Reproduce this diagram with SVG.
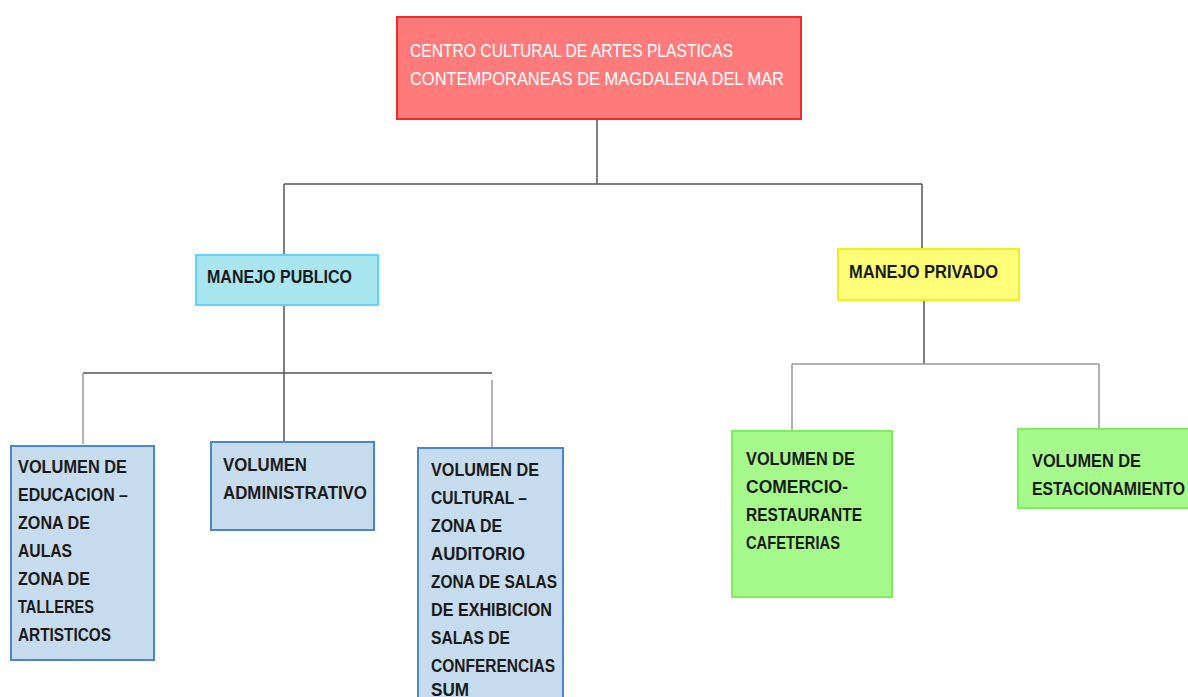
<svg xmlns="http://www.w3.org/2000/svg" width="1188" height="697" viewBox="0 0 1188 697">
<style>
text{font-family:"Liberation Sans",Arial,sans-serif;font-size:18px;font-weight:bold;fill:#1a1a1a}
.t{fill:#ffffff;font-weight:normal;font-size:18px}
.c{stroke:#555;stroke-width:1.5;fill:none}
.cl{stroke:#999;stroke-width:1.5;fill:none}
.blue{fill:#C6DBEE;stroke:#4A86C8;stroke-width:2}
.green{fill:#A6FA8B;stroke:#7CEE5C;stroke-width:2}
</style>
<rect width="1188" height="697" fill="#ffffff"/>
<g id="connectors">
<path class="c" d="M597 119V184M284 184H922M284 184V255M922 184V249"/>
<path class="c" d="M284 305V373M83 373H492M284 373V442"/>
<path class="cl" d="M83 373V444M492 380V448"/>
<path class="c" d="M924 300V364"/>
<path class="cl" d="M792 364H1099M792 364V431M1099 364V430"/>
</g>
<g id="root">
<rect x="397" y="17" width="404" height="102" fill="#FF7B7B" stroke="#F42A2A" stroke-width="2"/>
<text class="t" x="410" y="57" textLength="323" lengthAdjust="spacingAndGlyphs">CENTRO CULTURAL DE ARTES PLASTICAS</text>
<text class="t" x="410" y="85" textLength="374" lengthAdjust="spacingAndGlyphs">CONTEMPORANEAS DE MAGDALENA DEL MAR</text>
</g>
<g id="manejo-publico">
<rect x="196" y="255" width="182" height="50" fill="#A9E5EE" stroke="#5FD4F4" stroke-width="2"/>
<text x="207" y="283" textLength="145" lengthAdjust="spacingAndGlyphs">MANEJO PUBLICO</text>
</g>
<g id="manejo-privado">
<rect x="838" y="249" width="181" height="51" fill="#FFFF78" stroke="#EEEE22" stroke-width="2"/>
<text x="849" y="278" textLength="149" lengthAdjust="spacingAndGlyphs">MANEJO PRIVADO</text>
</g>
<g id="vol-educacion">
<rect class="blue" x="11" y="446" width="143" height="214"/>
<text x="18" y="473" textLength="109" lengthAdjust="spacingAndGlyphs">VOLUMEN DE</text>
<text x="18" y="501" textLength="110" lengthAdjust="spacingAndGlyphs">EDUCACION –</text>
<text x="18" y="529" textLength="72" lengthAdjust="spacingAndGlyphs">ZONA DE</text>
<text x="18" y="557" textLength="54" lengthAdjust="spacingAndGlyphs">AULAS</text>
<text x="18" y="585" textLength="72" lengthAdjust="spacingAndGlyphs">ZONA DE</text>
<text x="18" y="613" textLength="76" lengthAdjust="spacingAndGlyphs">TALLERES</text>
<text x="18" y="641" textLength="93" lengthAdjust="spacingAndGlyphs">ARTISTICOS</text>
</g>
<g id="vol-administrativo">
<rect class="blue" x="211" y="442" width="163" height="88"/>
<text x="223" y="471" textLength="84" lengthAdjust="spacingAndGlyphs">VOLUMEN</text>
<text x="223" y="499" textLength="144" lengthAdjust="spacingAndGlyphs">ADMINISTRATIVO</text>
</g>
<g id="vol-cultural">
<rect class="blue" x="418" y="448" width="145" height="260"/>
<text x="431" y="476" textLength="108" lengthAdjust="spacingAndGlyphs">VOLUMEN DE</text>
<text x="431" y="504" textLength="96" lengthAdjust="spacingAndGlyphs">CULTURAL –</text>
<text x="431" y="532" textLength="71" lengthAdjust="spacingAndGlyphs">ZONA DE</text>
<text x="431" y="560" textLength="94" lengthAdjust="spacingAndGlyphs">AUDITORIO</text>
<text x="431" y="588" textLength="126" lengthAdjust="spacingAndGlyphs">ZONA DE SALAS</text>
<text x="431" y="616" textLength="121" lengthAdjust="spacingAndGlyphs">DE EXHIBICION</text>
<text x="431" y="644" textLength="79" lengthAdjust="spacingAndGlyphs">SALAS DE</text>
<text x="431" y="672" textLength="124" lengthAdjust="spacingAndGlyphs">CONFERENCIAS</text>
<text x="431" y="696" textLength="38" lengthAdjust="spacingAndGlyphs">SUM</text>
</g>
<g id="vol-comercio">
<rect class="green" x="732" y="431" width="160" height="166"/>
<text x="746" y="465" textLength="109" lengthAdjust="spacingAndGlyphs">VOLUMEN DE</text>
<text x="746" y="493" textLength="102" lengthAdjust="spacingAndGlyphs">COMERCIO-</text>
<text x="746" y="521" textLength="116" lengthAdjust="spacingAndGlyphs">RESTAURANTE</text>
<text x="746" y="549" textLength="94" lengthAdjust="spacingAndGlyphs">CAFETERIAS</text>
</g>
<g id="vol-estacionamiento">
<rect class="green" x="1018" y="429" width="180" height="79"/>
<text x="1032" y="467" textLength="109" lengthAdjust="spacingAndGlyphs">VOLUMEN DE</text>
<text x="1032" y="495" textLength="153" lengthAdjust="spacingAndGlyphs">ESTACIONAMIENTO</text>
</g>
</svg>
